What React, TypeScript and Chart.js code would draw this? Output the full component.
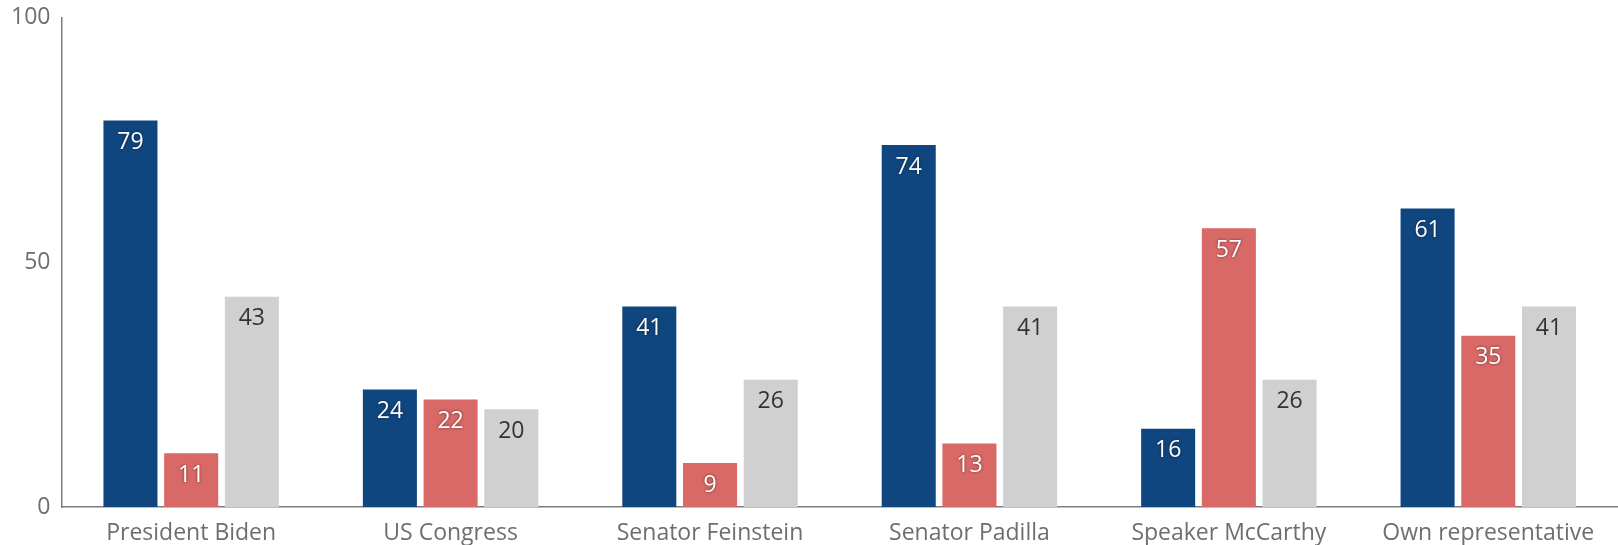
import React, { useEffect, useRef } from "react";
import { Chart, registerables } from "chart.js";

Chart.register(...registerables);

const categories = ["President Biden", "US Congress", "Senator Feinstein", "Senator Padilla", "Speaker McCarthy", "Own representative"];
const seriesA = [79, 24, 41, 74, 16, 61];
const seriesB = [11, 22, 9, 13, 57, 35];
const seriesC = [43, 20, 26, 41, 26, 41];
const yTicks = [0, 50, 100];

const FONT = "'Open Sans', 'DejaVu Sans', sans-serif";
const CANVAS_H = 567;
const CANVAS_TOP = -7;

const labelPlugin = {
  id: "barLabels",
  afterDatasetsDraw(chart: any) {
    const ctx = chart.ctx;
    chart.data.datasets.forEach((ds: any, di: number) => {
      const meta = chart.getDatasetMeta(di);
      meta.data.forEach((bar: any, i: number) => {
        const v = ds.data[i];
        ctx.save();
        ctx.font = `23px ${FONT}`;
        ctx.textAlign = "center";
        ctx.textBaseline = "middle";
        if (di < 2) {
          ctx.fillStyle = "#ffffff";
          ctx.shadowColor = "rgba(0,0,0,0.55)";
          ctx.shadowBlur = 3;
        } else {
          ctx.fillStyle = "#333333";
        }
        ctx.fillText(String(v), bar.x, bar.y + 22);
        ctx.restore();
      });
    });
  },
};

export default function App() {
  const ref = useRef<HTMLCanvasElement>(null);
  useEffect(() => {
    document.body.style.margin = "0";
    document.body.style.overflow = "hidden";
    const chart = new Chart(ref.current!, {
      type: "bar",
      data: {
        labels: categories,
        datasets: [
          { data: seriesA, backgroundColor: "#10467f" },
          { data: seriesB, backgroundColor: "#d96966" },
          { data: seriesC, backgroundColor: "#d0d0d0" },
        ],
      },
      options: {
        animation: false,
        responsive: false,
        maintainAspectRatio: false,
        layout: { padding: { top: 1, right: 0, left: 0, bottom: 0 } },
        plugins: { legend: { display: false }, tooltip: { enabled: false } },
        datasets: { bar: { categoryPercentage: 0.702, barPercentage: 0.89 } },
        scales: {
          x: {
            grid: { display: false, drawTicks: false },
            border: { display: true, color: "#7d7d80", width: 1.5 },
            ticks: { color: "#6d6e72", font: { family: FONT, size: 23, lineHeight: 1 }, padding: 15 },
          },
          y: {
            min: 0,
            max: 100,
            afterBuildTicks: (axis: any) => {
              axis.ticks = yTicks.map((v) => ({ value: v }));
            },
            grid: { display: false, drawTicks: false },
            border: { display: true, color: "#7d7d80", width: 1.5 },
            ticks: { color: "#6d6e72", font: { family: FONT, size: 23 }, padding: 11 },
          },
        },
      },
      plugins: [labelPlugin],
    });
    return () => chart.destroy();
  }, []);
  return (
    <div style={{ position: "relative", width: 1618, height: 545, overflow: "hidden" }}>
      <canvas
        ref={ref}
        width={1618}
        height={CANVAS_H}
        style={{ position: "absolute", left: 0, top: CANVAS_TOP, width: 1618, height: CANVAS_H, display: "block" }}
      />
    </div>
  );
}
